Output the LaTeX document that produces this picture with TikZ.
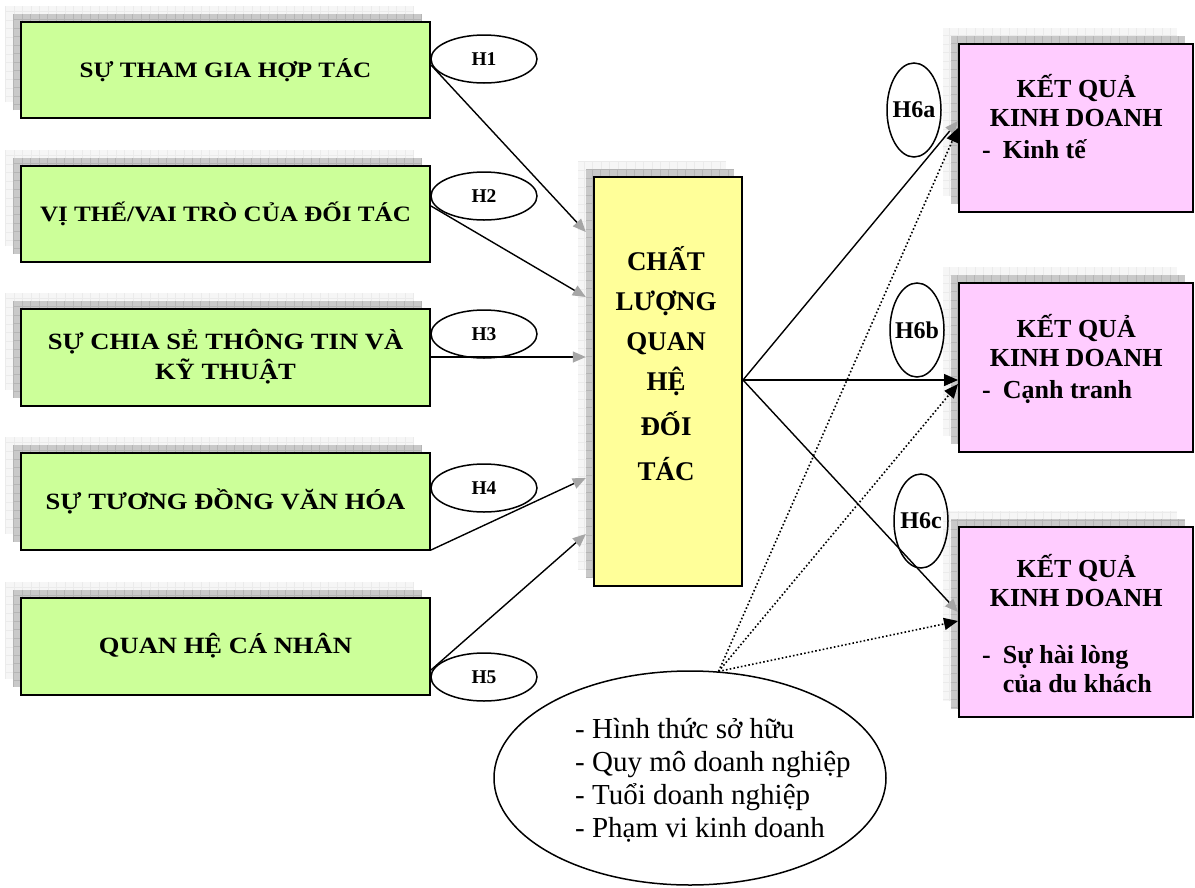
\documentclass[tikz,border=0pt]{standalone}
\usepackage{fontspec}
\setmainfont{Liberation Serif}
\newfontfamily\stretchserif{Liberation Serif}[FakeStretch=1.14]
\usetikzlibrary{arrows.meta,shapes.geometric}
\definecolor{boxgreen}{HTML}{CCFF99}
\definecolor{boxyellow}{HTML}{FFFF99}
\definecolor{boxpink}{HTML}{FFCCFF}
\newcommand\layersbehind[5]{%
  \node[lightsh, minimum width=#3pt, minimum height=#4pt] at (#1-16,#2-16) {};
  \node[darksh, minimum width=#3pt, minimum height=#4pt] (#5) at (#1-8,#2-8) {};}
\begin{document}
\begin{tikzpicture}[x=1pt,y=-1pt,
  lightsh/.style={rectangle, inner sep=0pt, fill=gray!7,
    path picture={\draw[gray!16, line width=0.6pt] (path picture bounding box.south west) grid[step=8.5pt] (path picture bounding box.north east);}},
  darksh/.style={rectangle, inner sep=0pt, fill=gray!42,
    path picture={\draw[gray!58, line width=0.7pt] (path picture bounding box.south west) grid[step=8.5pt] (path picture bounding box.north east);}},
  gbox/.style={rectangle, draw=black, line width=2pt, fill=boxgreen, minimum width=409pt, minimum height=96pt, inner sep=0pt, align=center,
    font=\stretchserif\bfseries\fontsize{22}{30}\selectfont},
  gbig/.style={font=\stretchserif\bfseries\fontsize{23.3}{30}\selectfont},
  ybox/.style={rectangle, draw=black, line width=2pt, fill=boxyellow, minimum width=148pt, minimum height=409pt, inner sep=0pt},
  pbox/.style={rectangle, draw=black, line width=2pt, fill=boxpink, minimum width=234pt, inner sep=0pt},
  ytext/.style={anchor=base, inner sep=0pt, font=\bfseries\fontsize{27}{40}\selectfont},
  ptext/.style={anchor=base west, inner sep=0pt, font=\bfseries\fontsize{26}{29}\selectfont},
  etext/.style={anchor=base west, inner sep=0pt, font=\fontsize{29}{33}\selectfont},
  hel/.style={ellipse, draw=black, line width=1.5pt, minimum width=106pt, minimum height=48pt, inner sep=0pt,
    font=\bfseries\fontsize{19.5}{19.5}\selectfont},
  hsix/.style={ellipse, draw=black, line width=1.5pt, minimum width=54pt, minimum height=94pt, inner sep=0pt,
    font=\bfseries\fontsize{24}{24}\selectfont},
  bigel/.style={ellipse, draw=black, line width=1.5pt, minimum width=392pt, minimum height=214pt, inner sep=0pt},
  conn/.style={draw=black, line width=1.4pt},
  greytip/.style={-{Triangle[length=13pt,width=11pt,color=gray!70]}},
  blacktip/.style={-{Triangle[length=14pt,width=12pt,color=black]}},
  dotline/.style={draw=black, line width=1.6pt, dash pattern=on 1.6pt off 2.2pt}
]
\fill[white] (0,0) rectangle (1195,887);
\useasboundingbox (0,0) rectangle (1195,887);

% green boxes
\layersbehind{225.5}{70}{409}{96}{g1s}
\layersbehind{225.5}{214}{409}{96}{g2s}
\layersbehind{225.5}{357}{409}{97}{g3s}
\layersbehind{225.5}{501}{409}{97}{g4s}
\layersbehind{225.5}{646}{409}{97}{g5s}
\node[gbox] (g1) at (225.5,70) {SỰ THAM GIA HỢP TÁC};
\node[gbox] (g2) at (225.5,214) {VỊ THẾ/VAI TRÒ CỦA ĐỐI TÁC};
\node[gbox, gbig, minimum height=97pt] (g3) at (225.5,357) {SỰ CHIA SẺ THÔNG TIN VÀ\\KỸ THUẬT};
\node[gbox, gbig, minimum height=97pt] (g4) at (225.5,501) {SỰ TƯƠNG ĐỒNG VĂN HÓA};
\node[gbox, gbig, minimum height=97pt] (g5) at (225.5,646) {QUAN HỆ CÁ NHÂN};

% central box
\layersbehind{668}{381.5}{148}{409}{ysh}
\node[ybox] (cl) at (668,381.5) {};
\node[ytext] (clt) at (666,270) {\begin{tabular}[t]{@{}c@{}}CHẤT\\LƯỢNG\\QUAN\\HỆ\\[5pt]ĐỐI\\[5pt]TÁC\end{tabular}};

% result boxes
\layersbehind{1076}{128}{234}{168}{pas}
\layersbehind{1076}{367.5}{234}{169}{pbs}
\layersbehind{1076}{622}{234}{190}{pcs}
\node[pbox, minimum height=168pt] (pa) at (1076,128) {};
\node[pbox, minimum height=169pt] (pb) at (1076,367.5) {};
\node[pbox, minimum height=190pt] (pc) at (1076,622) {};
\node[ptext] (pat) at (982,97) {\begin{tabular}[t]{@{}l@{}}\makebox[188pt]{KẾT QUẢ}\\\makebox[188pt]{KINH DOANH}\\[3pt]-\hspace{12pt}Kinh tế\end{tabular}};
\node[ptext] (pbt) at (982,337) {\begin{tabular}[t]{@{}l@{}}\makebox[188pt]{KẾT QUẢ}\\\makebox[188pt]{KINH DOANH}\\[3pt]-\hspace{12pt}Cạnh tranh\end{tabular}};
\node[ptext] (pct) at (982,577) {\begin{tabular}[t]{@{}l@{}}\makebox[188pt]{KẾT QUẢ}\\\makebox[188pt]{KINH DOANH}\\[28pt]-\hspace{12pt}Sự hài lòng\\\hspace*{20.7pt}của du khách\end{tabular}};

% hypothesis labels
\node[hel] (h1) at (484,59) {\makebox[0pt]{H1}};
\node[hel] (h2) at (484,196) {\makebox[0pt]{H2}};
\node[hel] (h3) at (484,334) {\makebox[0pt]{H3}};
\node[hel] (h4) at (484,488) {\makebox[0pt]{H4}};
\node[hel] (h5) at (484,677) {\makebox[0pt]{H5}};
\node[hsix] (h6a) at (914,110) {\makebox[0pt]{H6a}};
\node[hsix] (h6b) at (917,330) {\makebox[0pt]{H6b}};
\node[hsix] (h6c) at (921,521) {\makebox[0pt]{H6c}};

% control variables
\node[bigel] (big) at (690,778) {};
\node[etext] (bigt) at (575,738) {\begin{tabular}[t]{@{}l@{}}- Hình thức sở hữu\\- Quy mô doanh nghiệp\\- Tuổi doanh nghiệp\\- Phạm vi kinh doanh\end{tabular}};

% connectors into the central box
\draw[conn, greytip] (g1.east |- 0,65) -- (ysh.west |- 0,232);
\draw[conn, greytip] (g2.east |- 0,206) -- (ysh.west |- 0,297);
\draw[conn, greytip] (g3.east |- 0,357) -- (ysh.west |- 0,357);
\draw[conn, greytip] (g4.east |- 0,550) -- (ysh.west |- 0,478);
\draw[conn, greytip] (g5.east |- 0,670) -- (ysh.west |- 0,534);

% connectors to results
\draw[conn, greytip] (cl.east |- 0,380) -- (pa.west |- 0,121);
\draw[conn, blacktip] (cl.east |- 0,380) -- (pb.west |- 0,380);
\draw[conn, greytip] (cl.east |- 0,380) -- (pc.west |- 0,612);

% moderators
\draw[dotline, blacktip] (big.75) -- (pa.west |- 0,128);
\draw[dotline, blacktip] (big.75) -- (pb.west |- 0,384);
\draw[dotline, blacktip] (big.75) -- (pc.west |- 0,621);
\end{tikzpicture}
\end{document}
